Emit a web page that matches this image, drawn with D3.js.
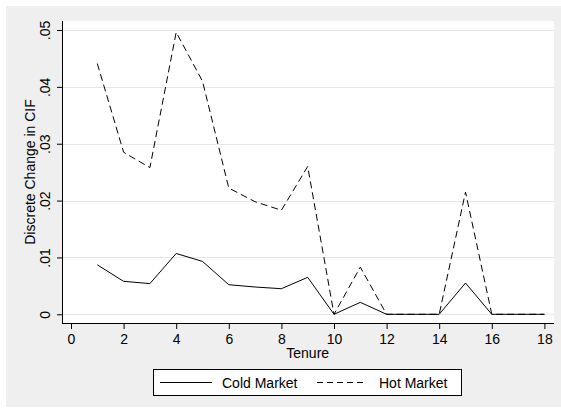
<!DOCTYPE html>
<html>
<head>
<meta charset="utf-8">
<script src="https://cdn.jsdelivr.net/npm/d3@7"></script>
<style>
  body { margin: 0; background: #fff; }
  text { font-family: "Liberation Sans", Arial, sans-serif; }
</style>
</head>
<body>
<div id="chart"></div>
<script>
// data
const tenure = [1, 2, 3, 4, 5, 6, 7, 8, 9, 10, 11, 12, 13, 14, 15, 16, 17, 18]
const coldMarket = [0.0087, 0.0058, 0.0054, 0.0107, 0.0093, 0.0052, 0.0048, 0.0045, 0.0065, 0, 0.0021, 0, 0, 0, 0.0055, 0, 0, 0]
const hotMarket = [0.0441, 0.0285, 0.0258, 0.0496, 0.0410, 0.0222, 0.0198, 0.0183, 0.0260, 0, 0.0083, 0, 0, 0, 0.0215, 0, 0, 0]
const xTicks = [0, 2, 4, 6, 8, 10, 12, 14, 16, 18]
const yTicks = [0, 0.01, 0.02, 0.03, 0.04, 0.05]
const yTickLabels = ["0", ".01", ".02", ".03", ".04", ".05"]
const seriesNames = ["Cold Market", "Hot Market"]

const width = 561
const height = 411
const fontSize = 14
const plot = { left: 62, right: 554, top: 21, bottom: 323 }

const svg = d3.select("#chart").append("svg")
    .attr("width", width)
    .attr("height", height)

// outer graph region
svg.append("rect")
    .attr("x", 6).attr("y", 6)
    .attr("width", width - 6).attr("height", 401)
    .attr("fill", "#efefef")

// plot region
svg.append("rect")
    .attr("x", plot.left).attr("y", plot.top)
    .attr("width", plot.right - plot.left).attr("height", plot.bottom - plot.top)
    .attr("fill", "#fff")

const x = d3.scaleLinear().domain([0, 18]).range([71, 544.4])
const y = d3.scaleLinear().domain([0, 0.05]).range([314.3, 30])

// gridlines
svg.append("g")
    .selectAll("line")
    .data(yTicks)
    .join("line")
    .attr("x1", plot.left).attr("x2", plot.right)
    .attr("y1", d => Math.round(y(d)) + 0.5).attr("y2", d => Math.round(y(d)) + 0.5)
    .attr("stroke", "#e6e6e6")
    .attr("stroke-width", 1)

// y axis
const yAxis = svg.append("g")
    .attr("transform", `translate(${plot.left},0)`)
    .call(d3.axisLeft(y).tickValues(yTicks).tickSize(5).tickPadding(6)
        .tickFormat((d, i) => yTickLabels[i]))
yAxis.select(".domain").attr("d", `M0.5,${plot.top}V${plot.bottom}`).attr("stroke", "#000")
yAxis.selectAll(".tick line").attr("stroke", "#000")
yAxis.selectAll(".tick text")
    .attr("font-size", fontSize)
    .attr("fill", "#000")
    .attr("text-anchor", "middle")
    .attr("x", null)
    .attr("dy", null)
    .attr("transform", "translate(-17,0) rotate(-90)")
    .attr("dominant-baseline", "central")

// x axis
const xAxis = svg.append("g")
    .attr("transform", `translate(0,${plot.bottom})`)
    .call(d3.axisBottom(x).tickValues(xTicks).tickSize(6).tickPadding(5).tickFormat(d3.format("d")))
xAxis.select(".domain").attr("d", `M${plot.left},0.5H${plot.right}`).attr("stroke", "#000")
xAxis.selectAll(".tick line").attr("stroke", "#000")
xAxis.selectAll(".tick text").attr("font-size", fontSize).attr("fill", "#000")

// axis titles
svg.append("text")
    .attr("x", (x(0) + x(18)) / 2).attr("y", 358)
    .attr("text-anchor", "middle")
    .attr("font-size", fontSize)
    .text("Tenure")

svg.append("text")
    .attr("transform", `translate(30,${(plot.top + plot.bottom) / 2}) rotate(-90)`)
    .attr("text-anchor", "middle")
    .attr("dominant-baseline", "central")
    .attr("font-size", fontSize)
    .text("Discrete Change in CIF")

// lines
const line = d3.line().x((d, i) => x(tenure[i])).y(d => y(d))

svg.append("path")
    .datum(coldMarket)
    .attr("d", line)
    .attr("fill", "none")
    .attr("stroke", "#000")
    .attr("stroke-width", 1)

svg.append("path")
    .datum(hotMarket)
    .attr("d", line)
    .attr("fill", "none")
    .attr("stroke", "#000")
    .attr("stroke-width", 1)
    .attr("stroke-dasharray", "7,4")

// legend
const legend = svg.append("g")
legend.append("rect")
    .attr("x", 153.5).attr("y", 369.5)
    .attr("width", 308).attr("height", 26)
    .attr("fill", "#fff")
    .attr("stroke", "#000")

const legendItems = [
    { name: seriesNames[0], x1: 160, x2: 212, tx: 222, dash: null },
    { name: seriesNames[1], x1: 317, x2: 366, tx: 379, dash: "6,4" }
]
legendItems.forEach(item => {
    legend.append("line")
        .attr("x1", item.x1).attr("x2", item.x2)
        .attr("y1", 382.5).attr("y2", 382.5)
        .attr("stroke", "#000")
        .attr("stroke-dasharray", item.dash)
    legend.append("text")
        .attr("x", item.tx).attr("y", 383)
        .attr("dominant-baseline", "central")
        .attr("font-size", fontSize)
        .text(item.name)
})
</script>
</body>
</html>
